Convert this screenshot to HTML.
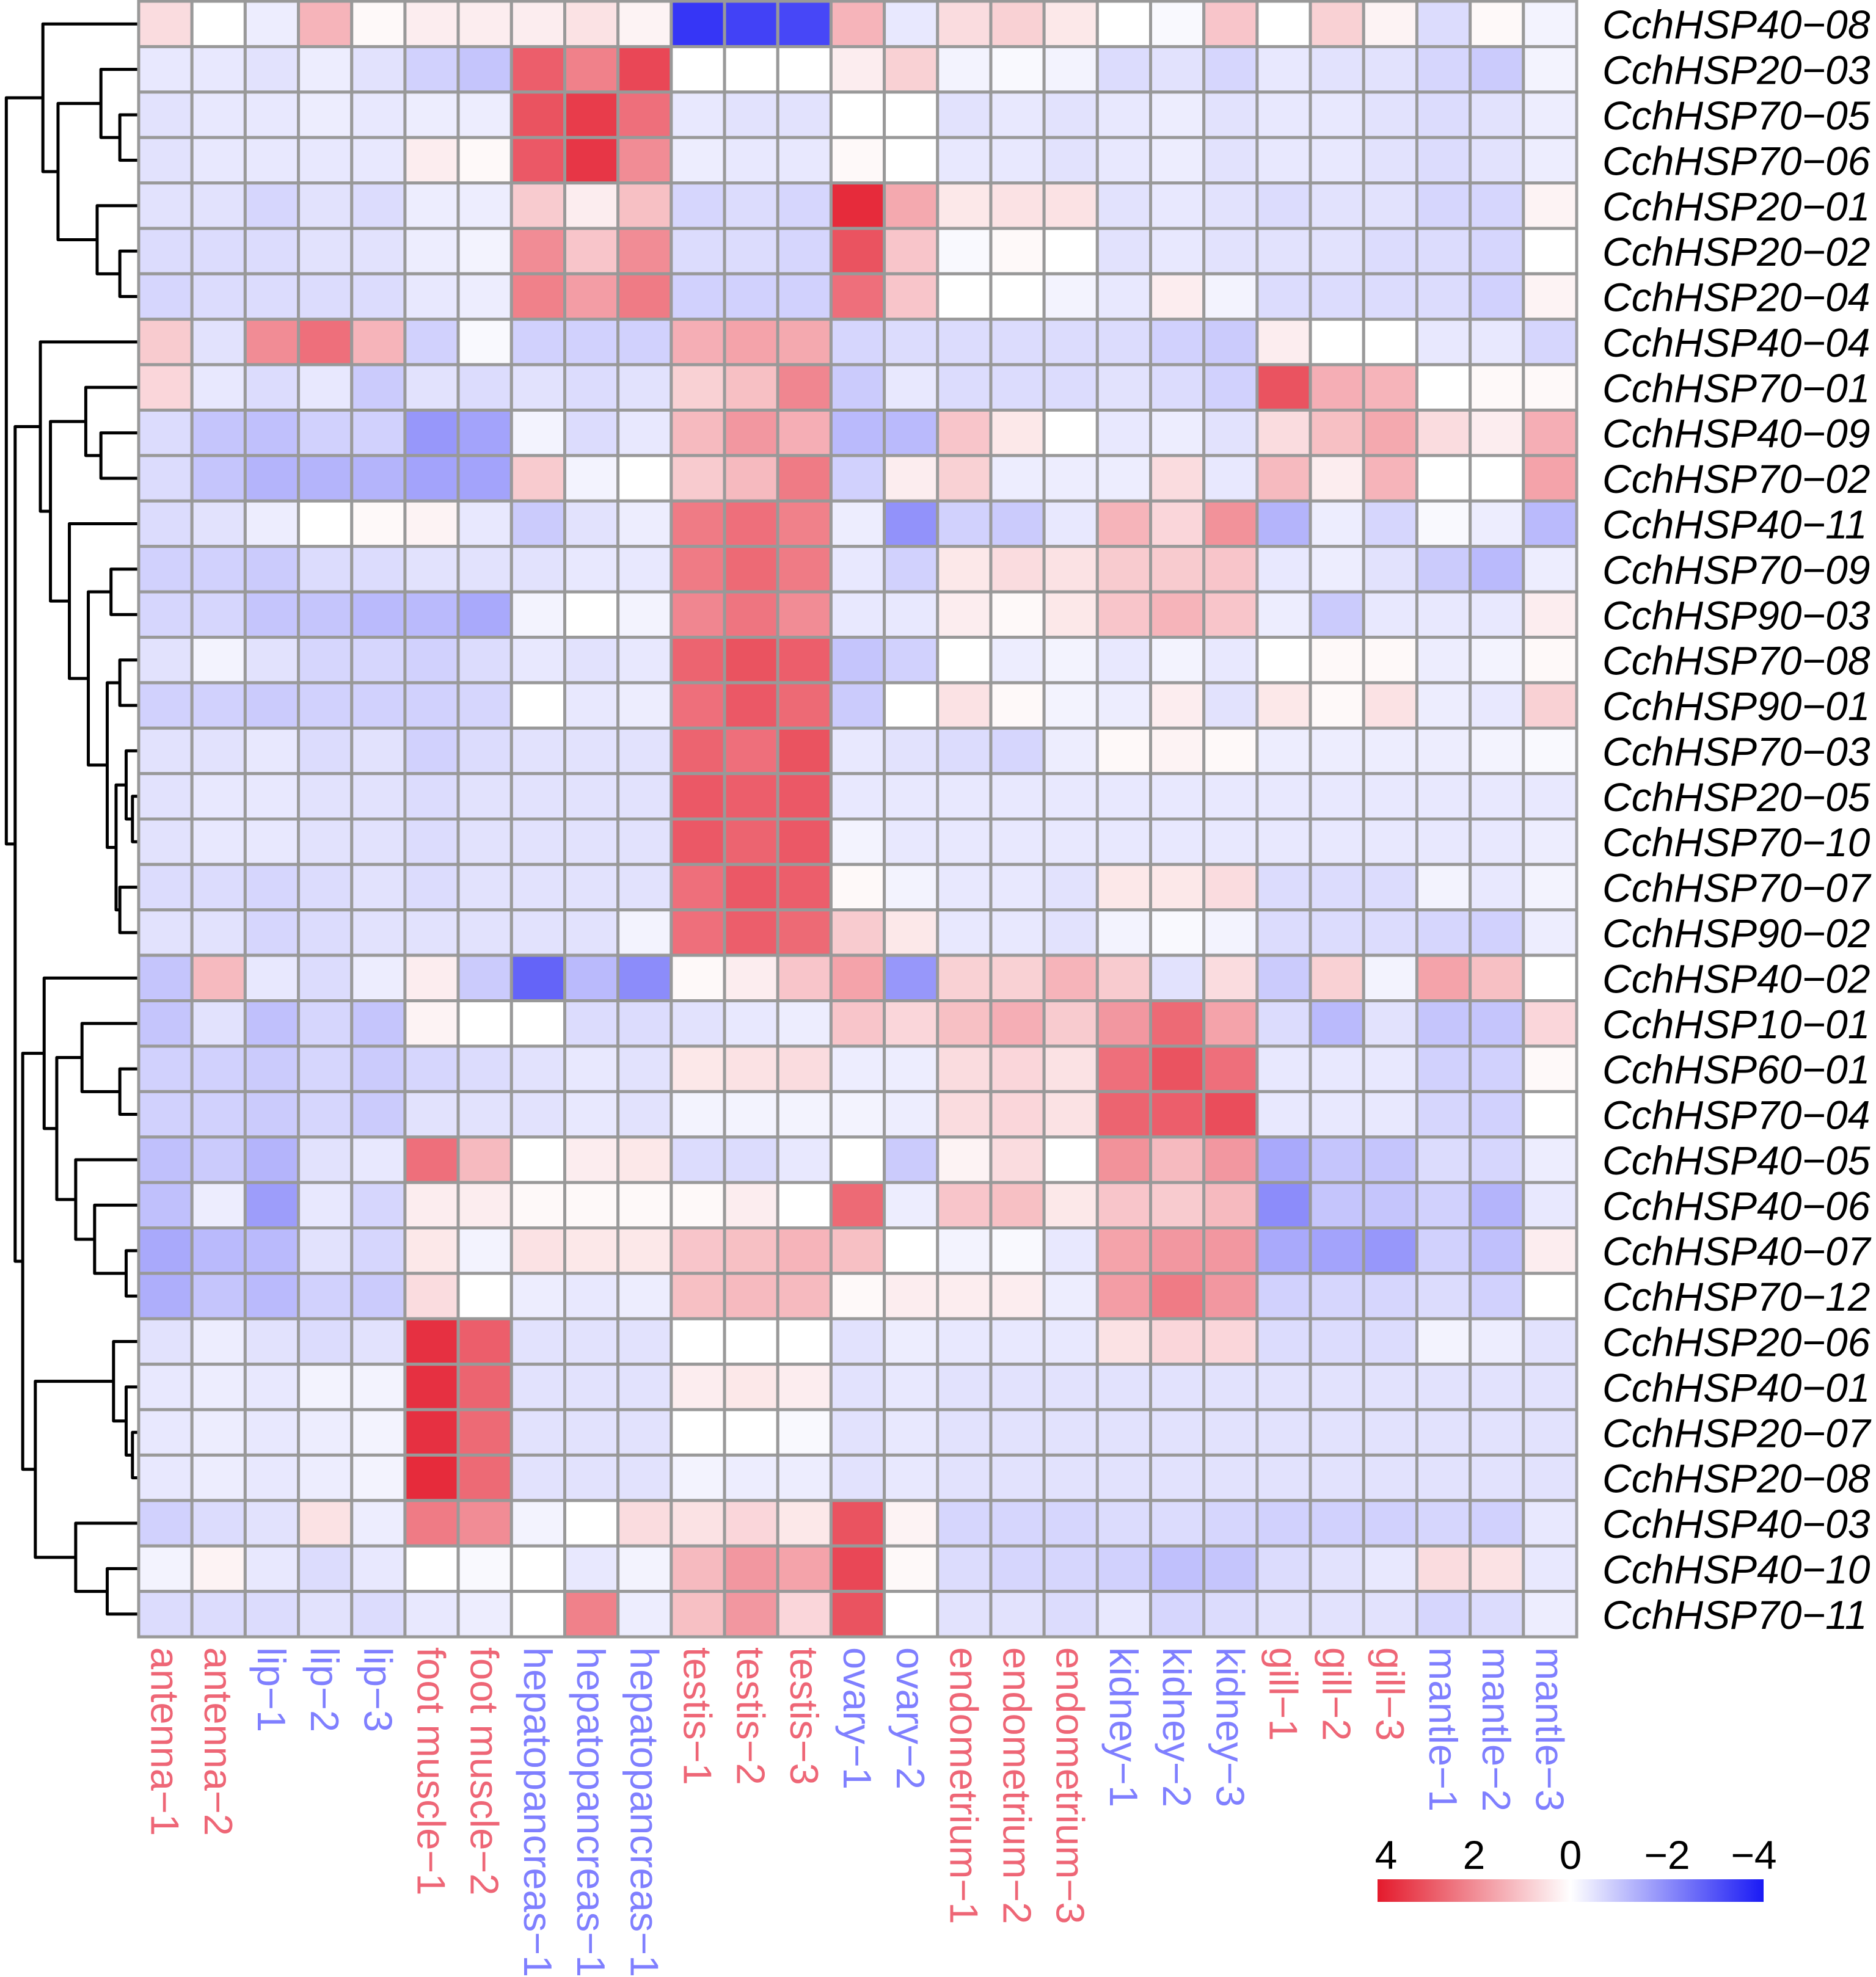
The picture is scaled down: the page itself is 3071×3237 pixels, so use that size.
<!DOCTYPE html>
<html><head><meta charset="utf-8"><style>
html,body{margin:0;padding:0;background:#fff;}
svg{display:block;}
</style></head><body>
<svg id="chart" xmlns="http://www.w3.org/2000/svg" width="3071" height="3237" viewBox="0 0 3071 3237" font-family="Liberation Sans, Arial, sans-serif">
<rect x="0" y="0" width="3071" height="3237" fill="#fff"/>
<g id="dendro"></g>
<g id="cells"></g>
<g id="rowlabels"></g>
<g id="collabels"></g>
<g id="legend"></g>
</svg>
<script>
const rowNames = ["CchHSP40-08","CchHSP20-03","CchHSP70-05","CchHSP70-06","CchHSP20-01","CchHSP20-02","CchHSP20-04","CchHSP40-04","CchHSP70-01","CchHSP40-09","CchHSP70-02","CchHSP40-11","CchHSP70-09","CchHSP90-03","CchHSP70-08","CchHSP90-01","CchHSP70-03","CchHSP20-05","CchHSP70-10","CchHSP70-07","CchHSP90-02","CchHSP40-02","CchHSP10-01","CchHSP60-01","CchHSP70-04","CchHSP40-05","CchHSP40-06","CchHSP40-07","CchHSP70-12","CchHSP20-06","CchHSP40-01","CchHSP20-07","CchHSP20-08","CchHSP40-03","CchHSP40-10","CchHSP70-11"];
const colNames = ["antenna-1","antenna-2","lip-1","lip-2","lip-3","foot muscle-1","foot muscle-2","hepatopancreas-1","hepatopancreas-1","hepatopancreas-1","testis-1","testis-2","testis-3","ovary-1","ovary-2","endometrium-1","endometrium-2","endometrium-3","kidney-1","kidney-2","kidney-3","gill-1","gill-2","gill-3","mantle-1","mantle-2","mantle-3"];
const colGroup = [0,0,1,1,1,0,0,1,1,1,0,0,0,1,1,0,0,0,1,1,1,0,0,0,1,1,1];
const legendTicks = [4,2,0,-2,-4];
const values = [
[0.6,0,-0.3,1.3,0.1,0.3,0.3,0.3,0.5,0.2,-3.5,-3.3,-3.2,1.3,-0.4,0.6,0.8,0.4,0,-0.1,1.0,0,0.8,0.2,-0.6,0.1,-0.2],
[-0.4,-0.4,-0.5,-0.3,-0.5,-0.8,-1.0,2.8,2.2,3.2,0,0,0,0.3,0.8,-0.2,-0.1,-0.2,-0.6,-0.5,-0.7,-0.4,-0.5,-0.5,-0.7,-0.9,-0.2],
[-0.5,-0.4,-0.4,-0.3,-0.4,-0.3,-0.3,3.0,3.4,2.5,-0.4,-0.5,-0.5,0,0,-0.5,-0.4,-0.5,-0.4,-0.3,-0.5,-0.4,-0.4,-0.5,-0.6,-0.5,-0.3],
[-0.5,-0.4,-0.4,-0.4,-0.4,0.3,0.1,2.9,3.5,2.0,-0.3,-0.4,-0.4,0.1,0,-0.4,-0.4,-0.5,-0.4,-0.3,-0.5,-0.4,-0.4,-0.5,-0.6,-0.5,-0.3],
[-0.5,-0.5,-0.7,-0.5,-0.6,-0.3,-0.3,0.9,0.3,1.1,-0.7,-0.6,-0.7,3.7,1.5,0.4,0.5,0.5,-0.5,-0.4,-0.5,-0.6,-0.5,-0.5,-0.7,-0.7,0.2],
[-0.6,-0.6,-0.6,-0.5,-0.5,-0.3,-0.2,2.0,1.0,2.0,-0.6,-0.6,-0.7,3.0,1.0,-0.1,0.1,0,-0.5,-0.4,-0.5,-0.5,-0.5,-0.6,-0.6,-0.7,0],
[-0.7,-0.6,-0.6,-0.6,-0.6,-0.4,-0.3,2.2,1.7,2.3,-0.8,-0.8,-0.8,2.5,1.0,0,0,-0.2,-0.4,0.3,-0.2,-0.6,-0.6,-0.6,-0.6,-0.8,0.2],
[0.9,-0.5,2.0,2.5,1.3,-0.8,-0.1,-0.8,-0.8,-0.8,1.4,1.6,1.5,-0.7,-0.6,-0.6,-0.6,-0.6,-0.6,-0.8,-0.9,0.3,0,0,-0.4,-0.4,-0.7],
[0.7,-0.4,-0.6,-0.4,-0.9,-0.5,-0.6,-0.5,-0.6,-0.5,0.8,1.1,2.1,-0.9,-0.4,-0.6,-0.6,-0.6,-0.5,-0.6,-0.8,3.0,1.4,1.3,0,0.1,0.1],
[-0.6,-1.0,-1.1,-0.8,-0.8,-1.8,-1.6,-0.2,-0.6,-0.4,1.2,1.8,1.4,-1.2,-1.2,1.0,0.4,0,-0.4,-0.3,-0.5,0.6,1.1,1.5,0.6,0.3,1.4],
[-0.6,-1.0,-1.3,-1.3,-1.3,-1.6,-1.6,0.9,-0.2,0,0.9,1.2,2.3,-0.8,0.3,0.8,-0.3,-0.3,-0.3,0.6,-0.4,1.2,0.3,1.3,0,0,1.6],
[-0.6,-0.5,-0.3,0,0.1,0.2,-0.4,-0.9,-0.5,-0.3,2.3,2.5,2.2,-0.3,-1.9,-0.8,-0.9,-0.4,1.3,0.7,1.9,-1.3,-0.3,-0.7,-0.1,-0.3,-1.2],
[-0.8,-0.8,-0.9,-0.6,-0.6,-0.5,-0.5,-0.5,-0.4,-0.4,2.3,2.6,2.3,-0.4,-0.8,0.4,0.6,0.5,0.9,0.9,1.0,-0.4,-0.3,-0.5,-0.9,-1.2,-0.3],
[-0.7,-0.7,-1.0,-1.0,-1.2,-1.2,-1.5,-0.2,0,-0.2,2.1,2.4,2.0,-0.4,-0.4,0.3,0.1,0.4,1.0,1.3,1.0,-0.3,-0.9,-0.4,-0.4,-0.4,0.3],
[-0.5,-0.2,-0.5,-0.7,-0.7,-0.8,-0.6,-0.4,-0.5,-0.4,2.7,3.0,2.8,-1.0,-0.8,0,-0.3,-0.2,-0.4,-0.2,-0.4,0,0.1,0.1,-0.3,-0.2,0.1],
[-0.8,-0.8,-0.9,-0.8,-0.8,-0.8,-0.7,0,-0.4,-0.3,2.5,2.9,2.6,-0.9,0,0.5,0.1,-0.2,-0.3,0.3,-0.5,0.4,0.1,0.5,-0.3,-0.4,0.8],
[-0.5,-0.5,-0.4,-0.6,-0.5,-0.8,-0.6,-0.5,-0.5,-0.5,2.7,2.5,3.0,-0.4,-0.5,-0.6,-0.7,-0.3,0.1,0.2,0.1,-0.3,-0.3,-0.3,-0.3,-0.2,-0.1],
[-0.5,-0.4,-0.4,-0.5,-0.5,-0.6,-0.5,-0.5,-0.5,-0.5,2.9,2.8,2.9,-0.4,-0.4,-0.4,-0.4,-0.4,-0.4,-0.4,-0.4,-0.4,-0.4,-0.4,-0.4,-0.4,-0.4],
[-0.5,-0.4,-0.4,-0.5,-0.5,-0.6,-0.5,-0.5,-0.5,-0.5,2.9,2.7,2.9,-0.2,-0.4,-0.4,-0.4,-0.4,-0.4,-0.4,-0.4,-0.4,-0.4,-0.4,-0.4,-0.4,-0.3],
[-0.6,-0.6,-0.7,-0.6,-0.5,-0.6,-0.5,-0.5,-0.5,-0.5,2.5,2.9,2.8,0.1,-0.2,-0.4,-0.4,-0.5,0.4,0.4,0.6,-0.6,-0.6,-0.6,-0.2,-0.4,-0.2],
[-0.5,-0.5,-0.7,-0.6,-0.5,-0.5,-0.5,-0.5,-0.5,-0.2,2.5,2.8,2.6,0.9,0.4,-0.4,-0.4,-0.5,-0.2,-0.1,-0.2,-0.6,-0.6,-0.6,-0.7,-0.8,-0.3],
[-1.0,1.2,-0.4,-0.6,-0.3,0.3,-0.9,-2.7,-1.2,-2.0,0.1,0.3,1.0,1.6,-1.8,0.8,0.8,1.3,0.9,-0.5,0.6,-0.9,0.8,-0.2,1.6,1.1,0],
[-1.0,-0.5,-1.1,-0.7,-1.0,0.2,0,0,-0.6,-0.6,-0.5,-0.4,-0.3,1.0,0.7,1.1,1.4,0.9,1.8,2.6,1.6,-0.6,-1.2,-0.5,-1.0,-1.0,0.7],
[-0.8,-0.8,-0.9,-0.7,-0.9,-0.7,-0.6,-0.5,-0.4,-0.5,0.4,0.5,0.6,-0.3,-0.3,0.6,0.7,0.5,2.5,3.0,2.5,-0.4,-0.4,-0.4,-0.8,-0.8,0.1],
[-0.8,-0.8,-0.9,-0.7,-0.9,-0.5,-0.5,-0.5,-0.4,-0.5,-0.2,-0.2,-0.2,-0.2,-0.3,0.6,0.7,0.5,2.7,2.8,3.1,-0.4,-0.4,-0.4,-0.7,-0.8,0],
[-1.1,-0.9,-1.3,-0.5,-0.4,2.5,1.2,0,0.3,0.4,-0.6,-0.6,-0.4,0,-0.9,0.2,0.6,0,1.9,1.2,1.8,-1.5,-1.0,-1.0,-0.6,-0.7,-0.3],
[-1.1,-0.3,-1.7,-0.4,-0.7,0.3,0.3,0.1,0.1,0.1,0.1,0.3,0,2.6,-0.3,1.0,1.1,0.4,1.0,0.9,1.2,-2.0,-1.0,-1.0,-0.8,-1.3,-0.4],
[-1.5,-1.2,-1.2,-0.5,-0.7,0.4,-0.2,0.5,0.4,0.4,1.0,1.1,1.3,1.1,0,-0.2,-0.1,-0.4,1.6,1.8,1.8,-1.5,-1.6,-1.8,-0.8,-1.1,0.3],
[-1.4,-1.0,-1.2,-0.8,-0.9,0.6,0,-0.3,-0.4,-0.3,1.1,1.2,1.2,0.1,0.3,0.3,0.3,-0.3,1.7,2.3,1.8,-0.8,-0.7,-0.7,-0.6,-0.8,0],
[-0.5,-0.3,-0.5,-0.6,-0.5,3.6,2.8,-0.5,-0.5,-0.5,0,0,0,-0.5,-0.3,-0.4,-0.4,-0.4,0.5,0.7,0.7,-0.6,-0.6,-0.6,-0.2,-0.3,-0.5],
[-0.4,-0.3,-0.4,-0.2,-0.2,3.6,2.7,-0.5,-0.5,-0.5,0.3,0.4,0.3,-0.5,-0.4,-0.5,-0.5,-0.5,-0.5,-0.5,-0.5,-0.5,-0.5,-0.5,-0.5,-0.5,-0.5],
[-0.4,-0.3,-0.4,-0.3,-0.2,3.6,2.6,-0.5,-0.5,-0.5,0,0,-0.1,-0.5,-0.4,-0.5,-0.5,-0.5,-0.5,-0.5,-0.5,-0.5,-0.5,-0.5,-0.5,-0.5,-0.5],
[-0.4,-0.3,-0.4,-0.3,-0.2,3.7,2.6,-0.5,-0.5,-0.5,-0.2,-0.3,-0.3,-0.5,-0.4,-0.5,-0.5,-0.5,-0.5,-0.5,-0.5,-0.5,-0.5,-0.5,-0.5,-0.5,-0.5],
[-0.8,-0.6,-0.5,0.5,-0.3,2.3,2.0,-0.2,0,0.6,0.5,0.7,0.4,3.0,0.2,-0.7,-0.7,-0.7,-0.6,-0.6,-0.7,-0.8,-0.8,-0.8,-0.7,-0.8,-0.4],
[-0.2,0.2,-0.4,-0.6,-0.4,0,-0.1,0,-0.4,-0.2,1.2,1.8,1.6,3.2,0.1,-0.6,-0.7,-0.7,-0.8,-1.1,-1.0,-0.6,-0.5,-0.4,0.6,0.5,-0.4],
[-0.6,-0.6,-0.6,-0.5,-0.6,-0.4,-0.3,0,2.2,-0.3,1.1,1.8,0.7,3.0,0,-0.5,-0.5,-0.6,-0.4,-0.7,-0.6,-0.5,-0.5,-0.5,-0.7,-0.6,-0.3]
];
// dendrogram merge structure: [joinDepth, left, right]; leaves are row indices
const tree = [5,
  [34,0,[46,[80,1,[95,2,3]],[77,4,[95,5,6]]]],
  [12,
    [32,7,[40,[68,8,[80,9,10]],[55,11,[70,[88,12,13],[85,[95,14,15],[92,[100,16,[105,17,18]],[95,19,20]]]]]]],
    [18,
      [35,21,[45,[65,22,[95,23,24]],[60,25,[75,26,[100,27,28]]]]],
      [28,[90,29,[100,30,[105,31,32]]],[60,33,[85,34,35]]]
    ]
  ]
];

const NS="http://www.w3.org/2000/svg";
const X0=227, X1=2581, Y0=2, Y1=2680;
const nR=rowNames.length, nC=colNames.length;
const cw=(X1-X0)/nC, ch=(Y1-Y0)/nR;
const xCol=i=>X0+i*cw, yRow=i=>Y0+i*ch;
const K=2.065;
function color(v){
  const t=Math.max(-1,Math.min(1,v/4));
  let r,g,b;
  if(t>=0){r=255+(228-255)*t;g=255+(26-255)*t;b=255+(44-255)*t;}
  else{const s=-t;r=255+(26-255)*s;g=255+(26-255)*s;b=255+(245-255)*s;}
  return `rgb(${r|0},${g|0},${b|0})`;
}
function mk(tag,attrs,parent){const e=document.createElementNS(NS,tag);for(const k in attrs)e.setAttribute(k,attrs[k]);parent.appendChild(e);return e;}

const cells=document.getElementById('cells');
for(let r=0;r<nR;r++)for(let c=0;c<nC;c++){
  const e=mk('rect',{x:xCol(c),y:yRow(r),width:cw,height:ch,fill:color(values[r][c]),stroke:'#999',"stroke-width":5},cells);
  
  
}

const rl=document.getElementById('rowlabels');
rowNames.forEach((n,i)=>{
  const t=mk('text',{x:2623,y:yRow(i)+ch/2+24,"font-size":66,"font-style":"italic",fill:'#000'},rl);
  t.textContent=n.replace('-','\u2212');
  
  
});

const cl=document.getElementById('collabels');
colNames.forEach((n,i)=>{
  const cx=xCol(i)+cw/2;
  const t=mk('text',{x:0,y:0,"font-size":65,fill:colGroup[i]?'#7f7fff':'#ee6676',transform:`translate(${cx-23},2697) rotate(90)`},cl);
  t.textContent=n.replace('-','\u2212');
  
  
});

const dg=document.getElementById('dendro');
function draw(node){
  if(typeof node==='number') return {x:X0,y:yRow(node)+ch/2};
  const a=draw(node[1]), b=draw(node[2]);
  const x=node[0]*K;
  const p=mk('path',{d:`M${a.x},${a.y}H${x}V${b.y}H${b.x}`,fill:'none',stroke:'#000',"stroke-width":5,"stroke-linejoin":"round"},dg);
  
  
  return {x:x,y:(a.y+b.y)/2};
}
draw(tree);

const lg=document.getElementById('legend');
const LX0=2255, LX1=2887, LY=3077, LH=37;
const defs=mk('defs',{},lg);
const grad=mk('linearGradient',{id:'lgrad',x1:0,x2:1,y1:0,y2:0},defs);
for(let k=0;k<=8;k++){mk('stop',{offset:k/8,"stop-color":color(4-k)},grad);}
const bar=mk('rect',{x:LX0,y:LY,width:LX1-LX0,height:LH,fill:'url(#lgrad)'},lg);


legendTicks.forEach(v=>{
  let x=LX0+(4-v)/8*(LX1-LX0);
  if(v===4)x+=14; if(v===-4)x-=16;
  const t=mk('text',{x:x,y:3060,"font-size":66,"text-anchor":"middle",fill:'#000'},lg);
  t.textContent=(v<0?'\u2212'+(-v):String(v));
  
  
});
</script>
</body></html>
